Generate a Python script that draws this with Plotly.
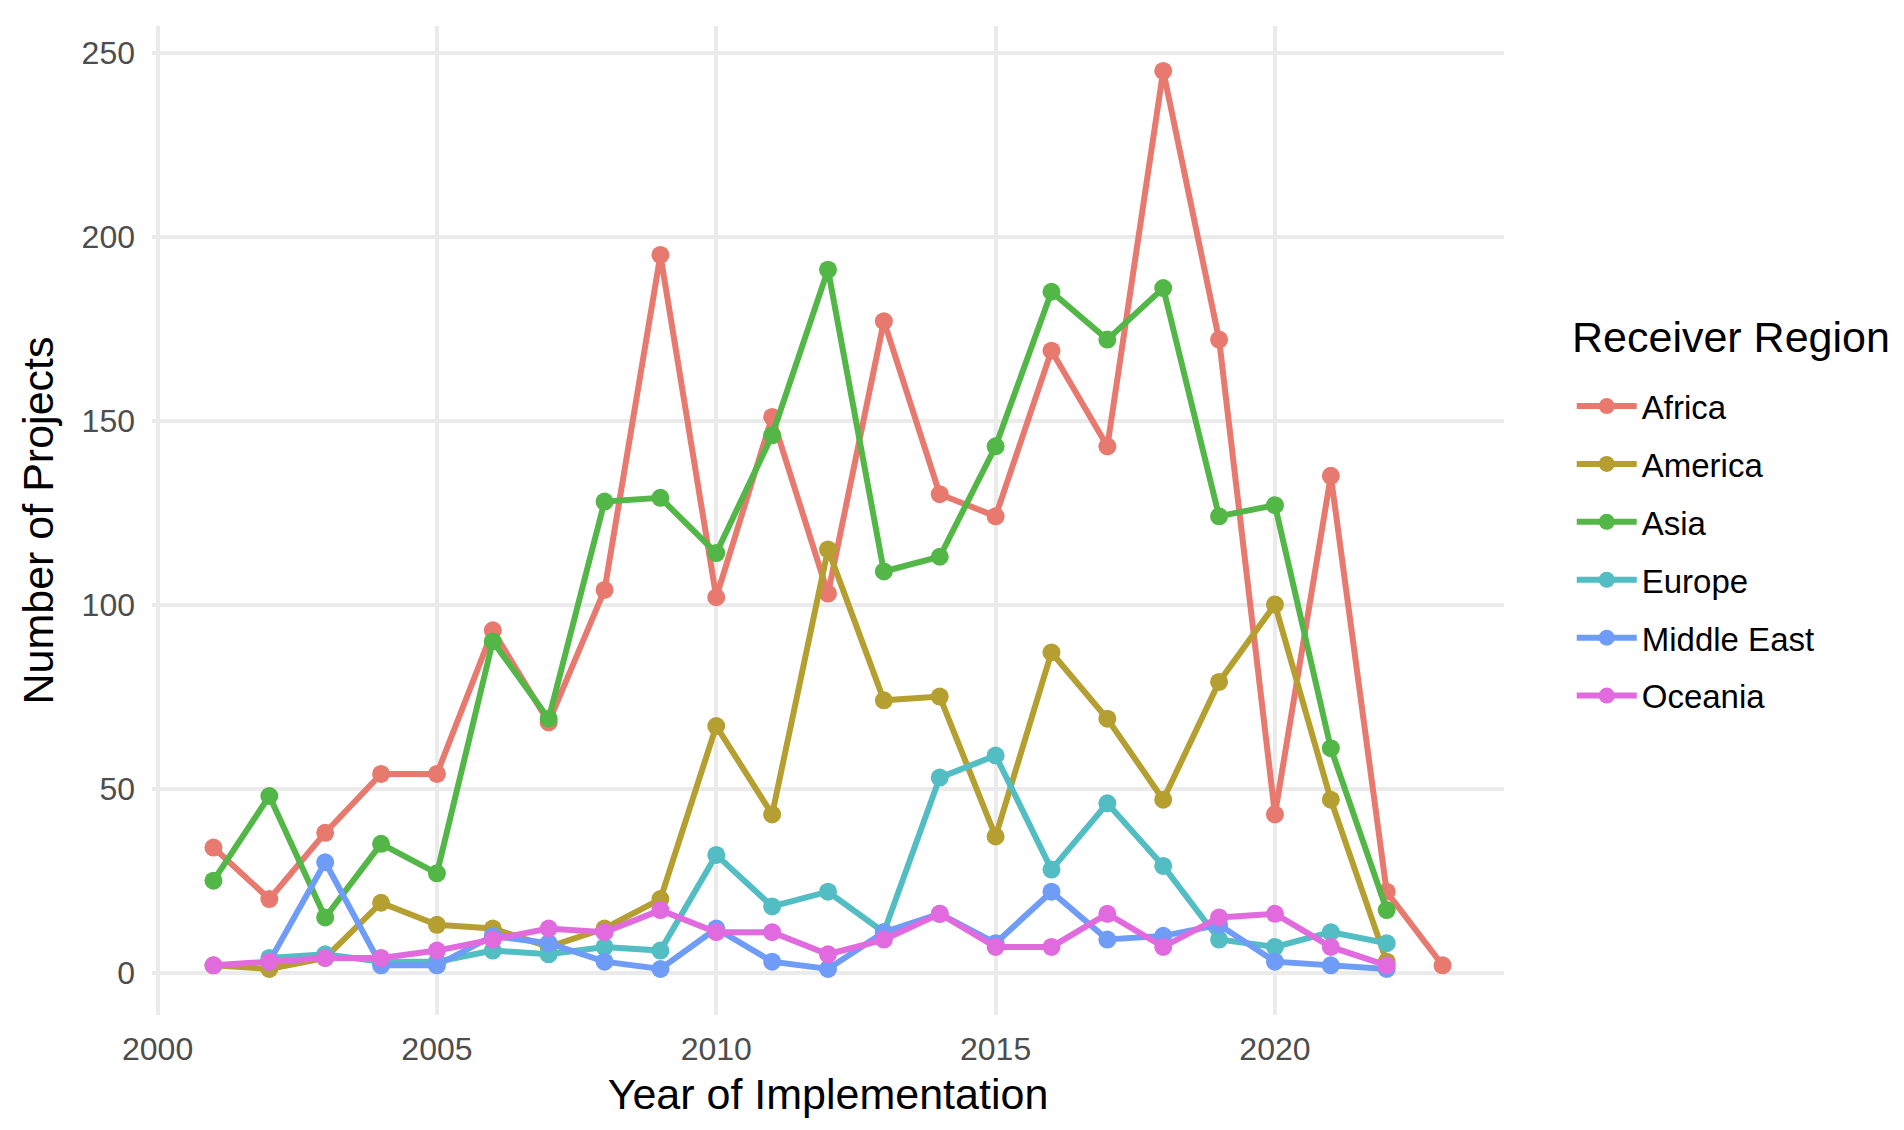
import plotly.graph_objects as go

years_all = list(range(2001, 2024))
years_to_2022 = list(range(2001, 2023))
years_from_2002 = list(range(2002, 2023))

africa = [34, 20, 38, 54, 54, 93, 68, 104, 195, 102, 151, 103, 177, 130, 124, 169, 143, 245, 172, 43, 135, 22, 2]
america = [2, 1, 4, 19, 13, 12, 7, 12, 20, 67, 43, 115, 74, 75, 37, 87, 69, 47, 79, 100, 47, 3]
asia = [25, 48, 15, 35, 27, 90, 69, 128, 129, 114, 146, 191, 109, 113, 143, 185, 172, 186, 124, 127, 61, 17]
europe = [4, 5, 3, 3, 6, 5, 7, 6, 32, 18, 22, 11, 53, 59, 28, 46, 29, 9, 7, 11, 8]
middle_east = [3, 30, 2, 2, 10, 8, 3, 1, 12, 3, 1, 11, 16, 8, 22, 9, 10, 13, 3, 2, 1]
oceania = [2, 3, 4, 4, 6, 9, 12, 11, 17, 11, 11, 5, 9, 16, 7, 7, 16, 7, 15, 16, 7, 2]

regions = ["Africa", "America", "Asia", "Europe", "Middle East", "Oceania"]
series_years = [years_all, years_to_2022, years_to_2022, years_from_2002, years_from_2002, years_to_2022]
series_vals = [africa, america, asia, europe, middle_east, oceania]
colors = ["#E8796F", "#B59F30", "#52B747", "#53BDC4", "#6E9CF6", "#E16BDE"]

x_ticks = [2000, 2005, 2010, 2015, 2020]
y_ticks = [0, 50, 100, 150, 200, 250]

fig = go.Figure()
for name, xs, ys, col in zip(regions, series_years, series_vals, colors):
    fig.add_trace(go.Scatter(
        x=xs, y=ys, name=name, mode="lines+markers",
        legendgroup=name,
        line=dict(color=col, width=6),
        marker=dict(color=col, size=18),
    ))

font_family = "Liberation Sans, Arial, sans-serif"

fig.update_layout(
    width=1904, height=1130,
    margin=dict(l=152, r=400, t=26, b=115, autoexpand=False),
    paper_bgcolor="white", plot_bgcolor="white",
    font=dict(family=font_family, color="black"),
    xaxis=dict(
        range=[1999.9, 2024.1], tickvals=x_ticks, ticktext=[str(v) for v in x_ticks],
        showgrid=True, gridcolor="#EBEBEB", gridwidth=3.5, zeroline=False,
        showline=False, ticks="", ticklabelstandoff=12,
        tickfont=dict(size=32, color="#4D4D4D", family=font_family),
        title=dict(text="Year of Implementation", font=dict(size=43, color="black", family=font_family), standoff=12),
    ),
    yaxis=dict(
        range=[-11.5, 257.2], tickvals=y_ticks, ticktext=[str(v) for v in y_ticks],
        showgrid=True, gridcolor="#EBEBEB", gridwidth=3.5, zeroline=False,
        showline=False, ticks="", ticklabelstandoff=16,
        tickfont=dict(size=32, color="#4D4D4D", family=font_family),
        title=dict(text="Number of Projects", font=dict(size=43, color="black", family=font_family), standoff=14),
    ),
    legend=dict(
        font=dict(size=33, color="black", family=font_family),
        x=1.0501, xanchor="left", y=0.644, yanchor="top",
        traceorder="grouped", tracegroupgap=12, itemwidth=60,
        bgcolor="rgba(0,0,0,0)",
    ),
    showlegend=True,
    annotations=[dict(
        text="Receiver Region", xref="paper", yref="paper",
        x=1.0486, xanchor="left", y=(1015.5 - 337.6) / 989.5, yanchor="middle",
        showarrow=False, font=dict(size=43, color="black", family=font_family),
    )],
)

fig.write_html("out.html")
